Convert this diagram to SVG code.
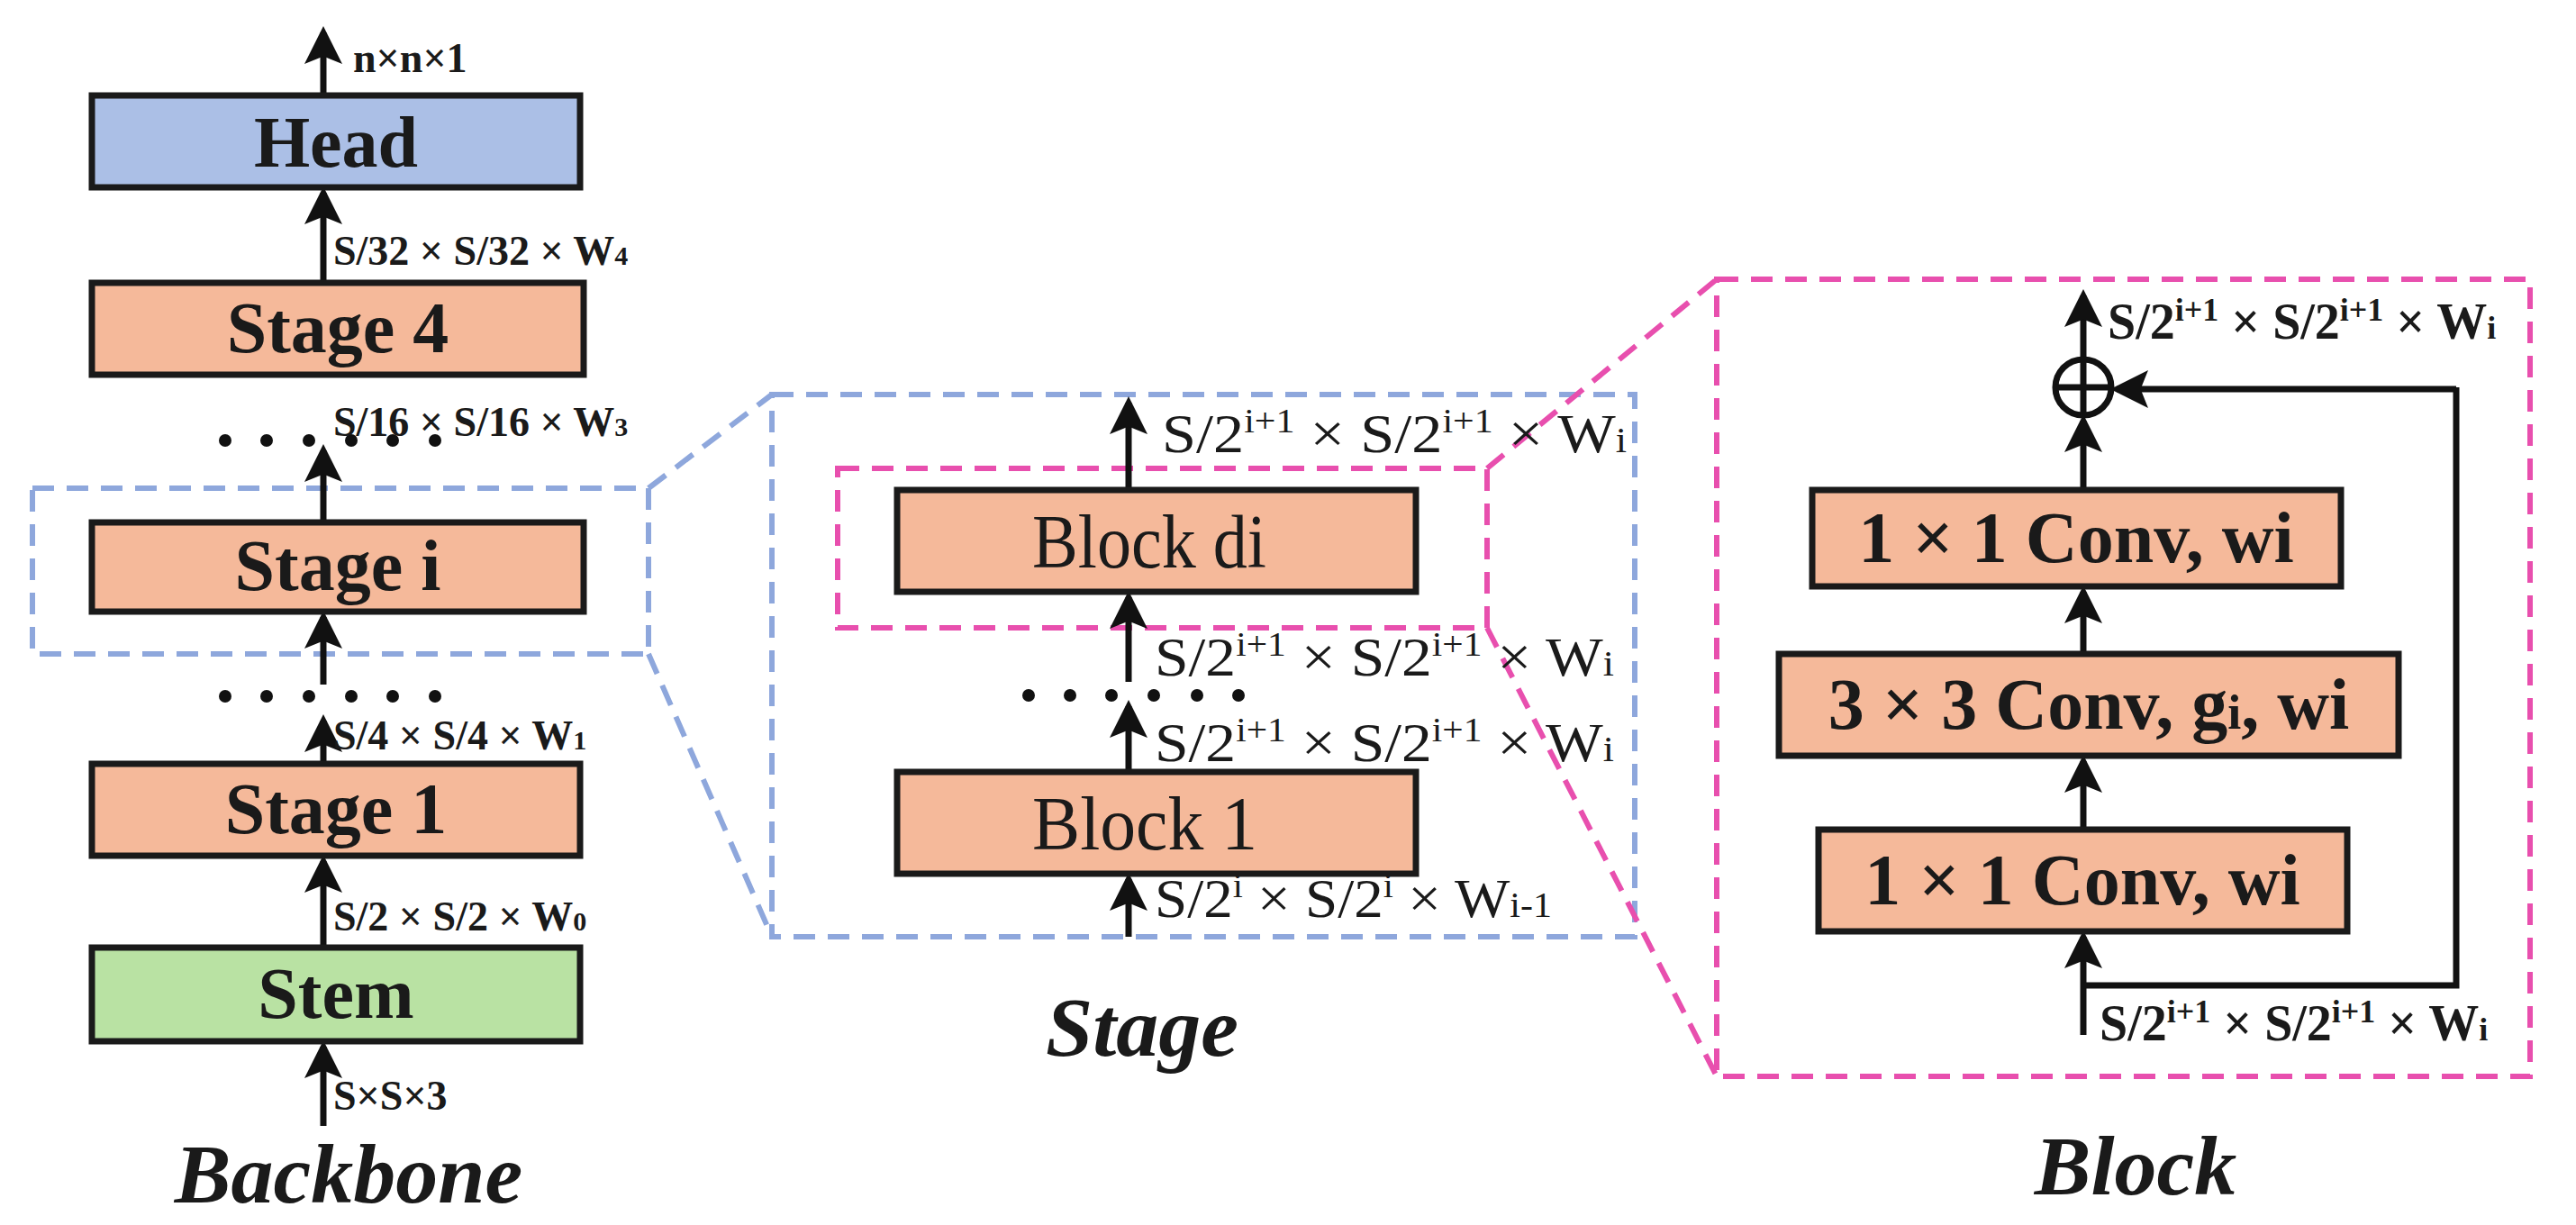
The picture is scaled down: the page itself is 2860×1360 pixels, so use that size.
<svg xmlns="http://www.w3.org/2000/svg" width="2860" height="1360" viewBox="0 0 2860 1360">
<style>
.box{stroke:#1a1a1a;stroke-width:7}
.o{fill:#f5b99a}
.bt{font-family:"Liberation Serif",serif;font-weight:bold;font-size:80px;fill:#1a1a1a;text-anchor:middle}
.mt{font-family:"Liberation Serif",serif;font-size:84px;fill:#1a1a1a}
.lb{font-family:"Liberation Serif",serif;font-weight:bold;font-size:46px;fill:#1a1a1a}
.rl{font-family:"Liberation Serif",serif;font-weight:bold;font-size:56px;fill:#1a1a1a}
.ml{font-family:"Liberation Serif",serif;font-size:62px;fill:#1a1a1a}
.ti{font-family:"Liberation Serif",serif;font-weight:bold;font-style:italic;font-size:94px;fill:#1a1a1a;text-anchor:middle}
.ar{stroke:#111;stroke-width:7;fill:none;marker-end:url(#ah)}
.ln{stroke:#111;stroke-width:7;fill:none}
.bd{stroke:#8ea7dc;stroke-width:6;fill:none;stroke-dasharray:24 14}
.pd{stroke:#e84fae;stroke-width:6;fill:none;stroke-dasharray:24 14}
</style>
<defs>
<marker id="ah" markerWidth="6" markerHeight="6" refX="5" refY="3" orient="auto" markerUnits="strokeWidth" viewBox="0 0 6 6">
<path d="M0,0 L6,3 L0,6 L1.2,3 Z" fill="#111"/>
</marker>
</defs>
<g id="zoom-lines">
<rect class="bd" x="36" y="542" width="684" height="184"/>
<path class="bd" d="M720,542 L857,438 M720,726 L857,1040"/>
<rect class="bd" x="857" y="438" width="958" height="602"/>
<rect class="pd" x="930" y="520" width="721" height="177"/>
<path class="pd" d="M1651,520 L1906,310 M1651,697 L1906,1195"/>
<rect class="pd" x="1906" y="310" width="903" height="885"/>
</g>
<g id="connectors">
<path class="ar" d="M359,1250 V1162"/>
<path class="ar" d="M359,1052 V956"/>
<path class="ar" d="M359,848 V800"/>
<path class="ar" d="M359,760 V685"/>
<path class="ar" d="M359,580 V500"/>
<path class="ar" d="M359,314 V214"/>
<path class="ar" d="M359,106 V36"/>
<path class="ar" d="M1253,1040 V976"/>
<path class="ar" d="M1253,857 V784"/>
<path class="ar" d="M1253,757 V663"/>
<path class="ar" d="M1253,544 V447"/>
<path class="ar" d="M2313,1149 V1040"/>
<path class="ar" d="M2313,921 V845"/>
<path class="ar" d="M2313,726 V657"/>
<path class="ar" d="M2313,544 V467"/>
<path class="ar" d="M2313,399 V328"/>
<path class="ln" d="M2313,1094 H2727 V430"/>
<path class="ar" d="M2727,432 H2350"/>
</g>
<g id="dots" fill="#111">
<circle cx="250" cy="489" r="7"/><circle cx="296" cy="489" r="7"/><circle cx="343" cy="489" r="7"/><circle cx="390" cy="489" r="7"/><circle cx="436" cy="489" r="7"/><circle cx="483" cy="489" r="7"/>
<circle cx="250" cy="773" r="7"/><circle cx="296" cy="773" r="7"/><circle cx="343" cy="773" r="7"/><circle cx="390" cy="773" r="7"/><circle cx="436" cy="773" r="7"/><circle cx="483" cy="773" r="7"/>
<circle cx="1142" cy="772" r="7"/><circle cx="1188" cy="772" r="7"/><circle cx="1234" cy="772" r="7"/><circle cx="1281" cy="772" r="7"/><circle cx="1329" cy="772" r="7"/><circle cx="1375" cy="772" r="7"/>
</g>
<g id="head"><rect class="box" x="102" y="106" width="542" height="102" fill="#abbfe6"/><text class="bt" x="373" y="185">Head</text></g>
<g id="stage4"><rect class="box o" x="102" y="314" width="546" height="102"/><text class="bt" x="375" y="391">Stage 4</text></g>
<g id="stagei"><rect class="box o" x="102" y="580" width="546" height="99"/><text class="bt" x="375" y="655">Stage i</text></g>
<g id="stage1"><rect class="box o" x="102" y="848" width="542" height="102"/><text class="bt" x="373" y="925">Stage 1</text></g>
<g id="stem"><rect class="box" x="102" y="1052" width="542" height="104" fill="#b9e2a3"/><text class="bt" x="373" y="1130">Stem</text></g>
<g id="blockdi"><rect class="box o" x="996" y="544" width="576" height="113"/><text class="mt" x="1146" y="630" textLength="260" lengthAdjust="spacingAndGlyphs">Block di</text></g>
<g id="block1"><rect class="box o" x="996" y="857" width="576" height="113"/><text class="mt" x="1146" y="943" textLength="250" lengthAdjust="spacingAndGlyphs">Block 1</text></g>
<g id="conv1top"><rect class="box o" x="2012" y="544" width="587" height="107"/><text class="bt" x="2305" y="624">1 × 1 Conv, wi</text></g>
<g id="conv3"><rect class="box o" x="1975" y="726" width="688" height="113"/><text class="bt" x="2319" y="809">3 × 3 Conv, g<tspan font-size="54">i</tspan>, wi</text></g>
<g id="conv1bot"><rect class="box o" x="2019" y="921" width="587" height="113"/><text class="bt" x="2312" y="1004">1 × 1 Conv, wi</text></g>
<g id="add"><circle cx="2313" cy="430" r="31" fill="#fff" stroke="#111" stroke-width="7"/><path d="M2282,430 H2344 M2313,399 V461" stroke="#111" stroke-width="7"/></g>
<g id="labels">
<text class="lb" x="392" y="80" font-size="56">n×n×1</text>
<text class="lb" x="370" y="294">S/32 × S/32 × W<tspan font-size="30">4</tspan></text>
<text class="lb" x="370" y="484">S/16 × S/16 × W<tspan font-size="30">3</tspan></text>
<text class="lb" x="370" y="832">S/4 × S/4 × W<tspan font-size="30">1</tspan></text>
<text class="lb" x="370" y="1033">S/2 × S/2 × W<tspan font-size="30">0</tspan></text>
<text class="lb" x="370" y="1232" font-size="56">S×S×3</text>
<text class="ml" x="1290" y="502" textLength="516" lengthAdjust="spacingAndGlyphs">S/2<tspan font-size="38" dy="-22">i+1</tspan><tspan dy="22"> × S/2</tspan><tspan font-size="38" dy="-22">i+1</tspan><tspan dy="22"> × W</tspan><tspan font-size="40">i</tspan></text>
<text class="ml" x="1282" y="750" textLength="510" lengthAdjust="spacingAndGlyphs">S/2<tspan font-size="38" dy="-22">i+1</tspan><tspan dy="22"> × S/2</tspan><tspan font-size="38" dy="-22">i+1</tspan><tspan dy="22"> × W</tspan><tspan font-size="40">i</tspan></text>
<text class="ml" x="1282" y="845" textLength="510" lengthAdjust="spacingAndGlyphs">S/2<tspan font-size="38" dy="-22">i+1</tspan><tspan dy="22"> × S/2</tspan><tspan font-size="38" dy="-22">i+1</tspan><tspan dy="22"> × W</tspan><tspan font-size="40">i</tspan></text>
<text class="ml" x="1282" y="1018" textLength="441" lengthAdjust="spacingAndGlyphs">S/2<tspan font-size="38" dy="-22">i</tspan><tspan dy="22"> × S/2</tspan><tspan font-size="38" dy="-22">i</tspan><tspan dy="22"> × W</tspan><tspan font-size="40">i-1</tspan></text>
<text class="rl" x="2340" y="376">S/2<tspan font-size="36" dy="-20">i+1</tspan><tspan dy="20"> × S/2</tspan><tspan font-size="36" dy="-20">i+1</tspan><tspan dy="20"> × W</tspan><tspan font-size="36">i</tspan></text>
<text class="rl" x="2331" y="1155">S/2<tspan font-size="36" dy="-20">i+1</tspan><tspan dy="20"> × S/2</tspan><tspan font-size="36" dy="-20">i+1</tspan><tspan dy="20"> × W</tspan><tspan font-size="36">i</tspan></text>
</g>
<g id="titles">
<text class="ti" x="387" y="1335">Backbone</text>
<text class="ti" x="1268" y="1172">Stage</text>
<text class="ti" x="2371" y="1326">Block</text>
</g>
</svg>
